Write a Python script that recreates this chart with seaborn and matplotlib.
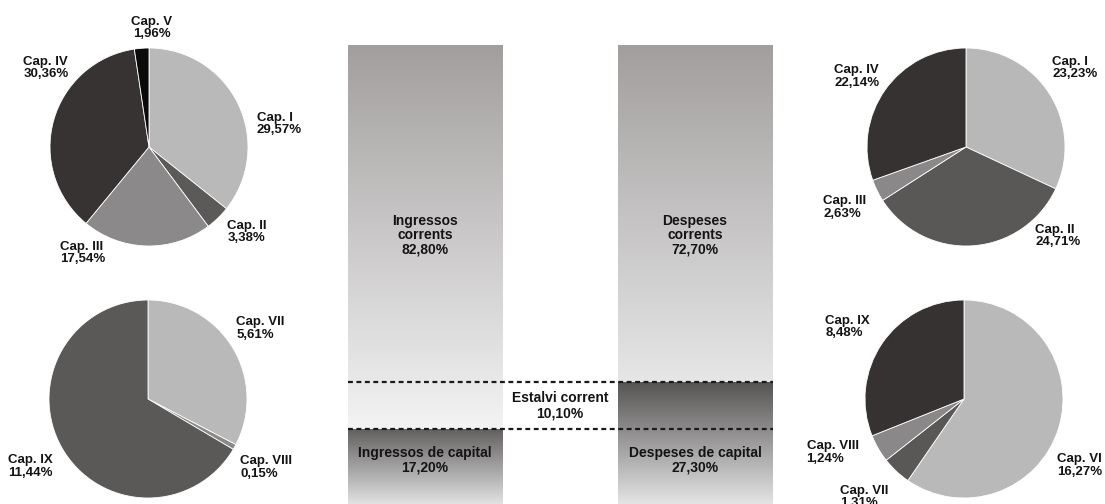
import numpy as np
import matplotlib
matplotlib.use("Agg")
import matplotlib.pyplot as plt
import seaborn as sns

# ---- data ----
ing_corr_caps = ["Cap. I", "Cap. II", "Cap. III", "Cap. IV", "Cap. V"]
ing_corr_vals = [29.57, 3.38, 17.54, 30.36, 1.96]
ing_corr_cols = ["#b9b9b9", "#5c5959", "#8b8989", "#373333", "#0a0a0a"]

ing_cap_caps = ["Cap. VII", "Cap. VIII", "Cap. IX"]
ing_cap_vals = [5.61, 0.15, 11.44]
ing_cap_cols = ["#b9b9b9", "#8a8888", "#5b5858"]

desp_corr_caps = ["Cap. I", "Cap. II", "Cap. III", "Cap. IV"]
desp_corr_vals = [23.23, 24.71, 2.63, 22.14]
desp_corr_cols = ["#b8b8b8", "#5a5757", "#8a8888", "#363232"]

desp_cap_caps = ["Cap. VI", "Cap. VII", "Cap. VIII", "Cap. IX"]
desp_cap_vals = [16.27, 1.31, 1.24, 8.48]
desp_cap_cols = ["#b9b9b9", "#5a5757", "#8a8888", "#363232"]

bar_names = ["Ingressos", "Despeses"]
corrents = [82.80, 72.70]
capital = [17.20, 27.30]
estalvi = 10.10

def pct(v):
    return f"{v:.2f}".replace(".", ",") + "%"

sns.set_theme(style="white")
plt.rcParams["font.family"] = ["Liberation Sans", "DejaVu Sans"]
txt = dict(fontsize=9.5, fontweight="bold", color="#141414", linespacing=1.05)

W, H = 1105, 504
fig = plt.figure(figsize=(11.05, 5.04), dpi=100)

# ---- pies ----
R = 99
pies = [
    # centre px, caps, vals, colours, label offsets (radius units, ha)
    ((149, 147), ing_corr_caps, ing_corr_vals, ing_corr_cols,
     [(1.09, 0.23, "left"), (0.79, -0.86, "left"), (-0.90, -1.07, "left"),
      (-1.27, 0.80, "left"), (0.03, 1.20, "center")]),
    ((148, 399), ing_cap_caps, ing_cap_vals, ing_cap_cols,
     [(0.89, 0.71, "left"), (0.93, -0.69, "left"), (-1.41, -0.68, "left")]),
    ((966, 147), desp_corr_caps, desp_corr_vals, desp_corr_cols,
     [(0.87, 0.80, "left"), (0.70, -0.90, "left"), (-1.44, -0.61, "left"),
      (-1.33, 0.71, "left")]),
    ((964, 399), desp_cap_caps, desp_cap_vals, desp_cap_cols,
     [(0.94, -0.67, "left"), (-1.25, -0.99, "left"), (-1.59, -0.54, "left"),
      (-1.40, 0.73, "left")]),
]

for (cx, cy), caps, vals, cols, offs in pies:
    ax = fig.add_axes([(cx - R) / W, 1 - (cy + R) / H, 2 * R / W, 2 * R / H])
    ax.pie(vals, colors=cols, startangle=90, counterclock=False,
           wedgeprops=dict(edgecolor="white", linewidth=0.6))
    ax.set_xlim(-1, 1)
    ax.set_ylim(-1, 1)
    ax.set_aspect("auto")
    ax.axis("off")
    for c, v, (dx, dy, ha) in zip(caps, vals, offs):
        ax.text(dx, dy, f"{c}\n{pct(v)}", ha=ha, va="center",
                multialignment=ha, clip_on=False, **txt)

# ---- central bars ----
bottom_px, top_px = 509, 45
axc = fig.add_axes([290 / W, 1 - bottom_px / H, 540 / W, (bottom_px - top_px) / H])
totals = [a + b for a, b in zip(corrents, capital)]
bw = 155 / 270
sns.barplot(x=bar_names, y=totals, ax=axc, width=bw, color="#cccccc", linewidth=0)
sns.barplot(x=bar_names, y=capital, ax=axc, width=bw, color="#888888", linewidth=0)

def grad(ax, patch, y0, y1, c_top, c_bot, z):
    c_top = np.array(matplotlib.colors.to_rgb(c_top))
    c_bot = np.array(matplotlib.colors.to_rgb(c_bot))
    t = np.linspace(0, 1, 256)[:, None]
    arr = (c_top[None, :] * (1 - t) + c_bot[None, :] * t)[:, None, :]
    x0 = patch.get_x()
    im = ax.imshow(arr, extent=(x0, x0 + patch.get_width(), y0, y1),
                   origin="upper", aspect="auto", zorder=z)
    im.set_clip_path(patch)

tops_corr = ["#a29e9e", "#a29e9e"]
bots_corr = ["#f3f3f3", "#e6e6e6"]
tops_cap = ["#625f5f", "#565353"]
bots_cap = ["#f0f0f0", "#f0f0f0"]
n = len(bar_names)
for i in range(n):
    p_tot = axc.patches[i]
    p_cap = axc.patches[n + i]
    grad(axc, p_tot, capital[i], totals[i], tops_corr[i], bots_corr[i], 2)
    grad(axc, p_cap, -capital[i] * 0.04, capital[i], tops_cap[i], bots_cap[i], 3)

x_left = axc.patches[0].get_x()
x_right = axc.patches[1].get_x() + axc.patches[1].get_width()
for yv in capital:
    axc.plot([x_left, x_right], [yv, yv], color="#1a1a1a", lw=1.6,
             ls=(0, (2.2, 1.6)), zorder=5)

btxt = dict(txt, fontsize=10, linespacing=1.05)
axc.text(0, 59, f"{bar_names[0]}\ncorrents\n{pct(corrents[0])}", ha="center", va="center", zorder=6, **btxt)
axc.text(1, 59, f"{bar_names[1]}\ncorrents\n{pct(corrents[1])}", ha="center", va="center", zorder=6, **btxt)
axc.text(0, 10.6, f"{bar_names[0]} de capital\n{pct(capital[0])}", ha="center", va="center", zorder=6, **btxt)
axc.text(1, 10.6, f"{bar_names[1]} de capital\n{pct(capital[1])}", ha="center", va="center", zorder=6, **btxt)
axc.text(0.5, sum(capital) / 2, f"Estalvi corrent\n{pct(estalvi)}", ha="center", va="center", zorder=6, **btxt)

axc.set_xlim(-0.5, 1.5)
axc.set_ylim(0, 100)
axc.axis("off")

fig.savefig("out.png", dpi=100, facecolor="white")
